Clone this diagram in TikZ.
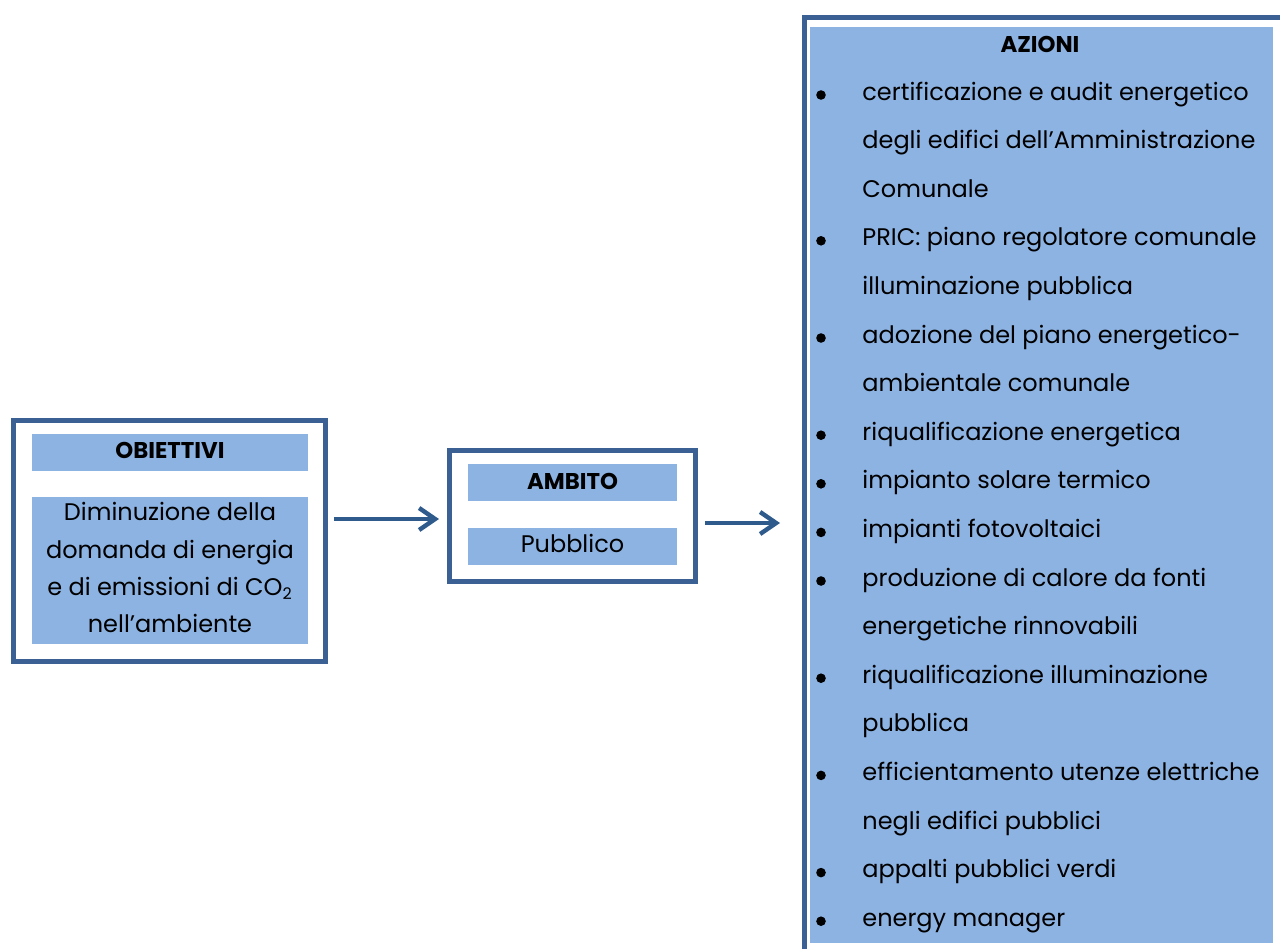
\documentclass[tikz,border=0pt]{standalone}
\usepackage{fontspec}
\setmainfont{Poppins}
\usetikzlibrary{arrows.meta}
\definecolor{frameblue}{HTML}{3A6094}
\definecolor{barblue}{HTML}{8DB3E2}
\definecolor{arrowblue}{HTML}{2E5A8C}
\tikzset{
  outerbox/.style={draw=frameblue, line width=2.5pt, fill=white, inner sep=0pt},
  bar/.style={fill=barblue, inner sep=0pt},
  txt/.style={inner sep=0pt, font=\fontsize{12pt}{14pt}\selectfont},
  head/.style={inner sep=0pt, font=\fontsize{11.4pt}{13pt}\selectfont\bfseries},
  flow/.style={draw=arrowblue, line width=2.2pt,
    -{Straight Barb[length=8pt,width=11pt,line width=2.2pt]}}
}
\begin{document}
\begin{tikzpicture}[x=0.5pt,y=-0.5pt]
\useasboundingbox (0,0) rectangle (1280,948);
\begin{scope}
\clip (0,0) rectangle (1280,948);

% Obiettivi
\node[outerbox, minimum width=156.25pt, minimum height=120.5pt] (obj) at (169.25,541) {};
\node[bar, minimum width=138pt, minimum height=18.5pt] (objhead) at (170,452.5) {};
\node[bar, minimum width=138pt, minimum height=73.5pt] (objbody) at (170,570.5) {};
\node[head, anchor=base] (objtitle) at (170,458) {OBIETTIVI};
\node[txt, anchor=base] (o1) at (170,520.7) {Diminuzione della};
\node[txt, anchor=base] (o2) at (170,558) {domanda di energia};
\node[txt, anchor=base] (o3) at (170,595.5) {e di emissioni di CO\textsubscript{2}};
\node[txt, anchor=base] (o4) at (170,632.5) {nell’ambiente};

% Ambito
\node[outerbox, minimum width=123pt, minimum height=65.5pt] (amb) at (572.5,516) {};
\node[bar, minimum width=104.5pt, minimum height=18.5pt] (ambhead) at (572.5,482.5) {};
\node[bar, minimum width=104.5pt, minimum height=18.5pt] (ambbody) at (572.5,546.5) {};
\node[head, anchor=base] (ambtitle) at (572.5,489) {AMBITO};
\node[txt, anchor=base] (ambtext) at (572.5,552) {Pubblico};

% Azioni
\node[outerbox, anchor=north west, minimum width=260pt, minimum height=480pt] (az) at (802,14.5) {};
\node[bar, minimum width=231.5pt, minimum height=458pt] (azbody) at (1041.5,485) {};
\node[head, anchor=base] (aztitle) at (1040,52) {AZIONI};

\foreach \t/\b [count=\i] in {
  certificazione e audit energetico/1,
  degli edifici dell’Amministrazione/0,
  Comunale/0,
  PRIC: piano regolatore comunale/1,
  illuminazione pubblica/0,
  adozione del piano energetico-/1,
  ambientale comunale/0,
  riqualificazione energetica/1,
  impianto solare termico/1,
  impianti fotovoltaici/1,
  produzione di calore da fonti/1,
  energetiche rinnovabili/0,
  riqualificazione illuminazione/1,
  pubblica/0,
  efficientamento utenze elettriche/1,
  negli edifici pubblici/0,
  appalti pubblici verdi/1,
  energy manager/1}{
  \pgfmathsetmacro{\yb}{100+48.6*(\i-1)}
  \node[txt, anchor=base west] (l\i) at (862,\yb) {\t};
  \ifnum\b=1
    \fill (821,\yb-5) circle[radius=2.4pt];
  \fi
}

% Connectors
\coordinate (y1) at (0,519);
\coordinate (y2) at (0,523);
\draw[flow] ([xshift=3pt]obj.east |- y1) -- ([xshift=-4pt]amb.west |- y1);
\draw[flow] ([xshift=3.5pt]amb.east |- y2) -- ([xshift=-11pt]az.west |- y2);
\end{scope}
\end{tikzpicture}
\end{document}
